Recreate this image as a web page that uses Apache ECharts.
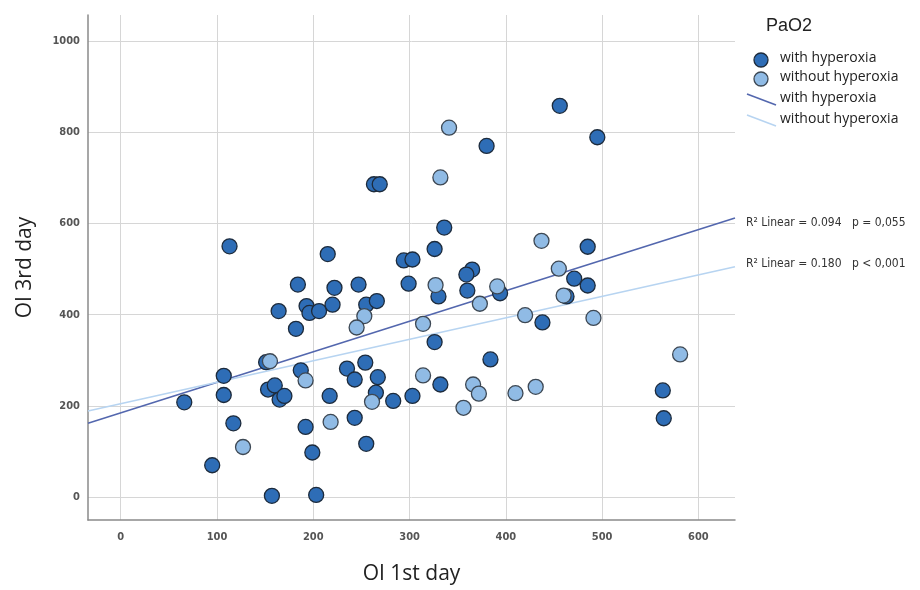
<!DOCTYPE html>
<html>
<head>
<meta charset="utf-8">
<script src="https://cdn.jsdelivr.net/npm/echarts@6/dist/echarts.min.js"></script>
<style>
html,body{margin:0;padding:0;background:#fff;}
#chart{width:920px;height:590px;}
</style>
</head>
<body>
<div id="chart"></div>
<script>
// ---- data ----
var withHyperoxia = [
  [66,208],[95,70],[107,266],[107,224],[117,162],[113,550],[151,296],[187,278],
  [153,236],[160,245],[165,214],[170,222],[157,3],[203,5],[192,154],[199,98],
  [217,222],[243,174],[235,282],[243,258],[254,295],[255,117],[267,263],[265,229],
  [283,211],[303,222],[164,408],[182,369],[193,419],[196,404],[206,408],[220,422],
  [255,422],[266,430],[184,466],[222,459],[247,466],[299,468],[294,519],[303,521],
  [326,544],[336,591],[263,686],[269,686],[215,533],[326,340],[330,440],[332,247],
  [360,453],[365,499],[359,488],[394,447],[380,770],[384,302],[438,383],[456,858],
  [495,789],[485,549],[471,479],[485,464],[463,440],[563,234],[564,173]
];
var withoutHyperoxia = [
  [127,110],[155,298],[192,256],[218,165],[261,209],[314,267],[253,397],[245,372],
  [314,380],[327,465],[332,701],[341,810],[373,424],[366,247],[372,227],[356,196],
  [410,228],[431,242],[420,399],[391,462],[437,562],[455,501],[460,442],[491,393],
  [581,313]
];
// fit lines (end points)
var fitWith = [[-34,162],[638,612]];
var fitWithout = [[-34,189],[638,505]];
var xRange = [-34, 638];
var yRange = [-50, 1057];
var legendTitle = 'PaO2';
var seriesNames = ['with hyperoxia','without hyperoxia'];
var fitLabels = ['R\u00b2 Linear = 0.094   p = 0,055', 'R\u00b2 Linear = 0.180   p < 0,001'];
var xName = 'OI 1st day', yName = 'OI 3rd day';

// ---- styles ----
var cDark = '#2e6db6', cLight = '#90bbe5';
var lDark = '#5367ae', lLight = '#b7d4f1';
var font = '"Open Sans", "Noto Sans", sans-serif';
var narrow = '"Liberation Sans Narrow", "DejaVu Sans Condensed", "Liberation Sans", sans-serif';
function plain(v){ return String(v); }

var chart = echarts.init(document.getElementById('chart'), null, {renderer:'canvas'});
var option = {
  backgroundColor: '#ffffff',
  animation: false,
  grid: {left: 88, right: 185, top: 15, bottom: 69},
  xAxis: {
    type: 'value', min: xRange[0], max: xRange[1],
    name: xName, nameLocation: 'middle', nameGap: 44,
    nameTextStyle: {fontSize: 21, color: '#222', fontFamily: font},
    axisLine: {show: true, onZero: false, lineStyle: {color: '#8a8a8a', width: 1.5}},
    axisTick: {show: false},
    axisLabel: {formatter: plain, showMinLabel: false, showMaxLabel: false, color: '#555', fontSize: 11, margin: 12, fontFamily: narrow, fontWeight: 'bold'},
    splitLine: {show: true, showMinLine: false, showMaxLine: false, lineStyle: {color: '#d6d6d6', width: 1}}
  },
  yAxis: {
    type: 'value', min: yRange[0], max: yRange[1],
    name: yName, nameLocation: 'middle', nameGap: 52, nameRotate: 90,
    nameTextStyle: {fontSize: 21, color: '#222', fontFamily: font},
    axisLine: {show: true, onZero: false, lineStyle: {color: '#8a8a8a', width: 1.5}},
    axisTick: {show: false},
    axisLabel: {formatter: plain, showMinLabel: false, showMaxLabel: false, color: '#555', fontSize: 11, margin: 8, fontFamily: narrow, fontWeight: 'bold'},
    splitLine: {show: true, showMinLine: false, showMaxLine: false, lineStyle: {color: '#d6d6d6', width: 1}}
  },
  series: [
    {name: seriesNames[0] + ' fit', type: 'line', data: fitWith, symbol: 'none', z: 2,
     lineStyle: {color: lDark, width: 1.6}},
    {name: seriesNames[1] + ' fit', type: 'line', data: fitWithout, symbol: 'none', z: 2,
     lineStyle: {color: lLight, width: 1.6}},
    {name: seriesNames[0], type: 'scatter', data: withHyperoxia, symbolSize: 15, z: 3,
     itemStyle: {color: cDark, borderColor: '#1d2b3c', borderWidth: 1.3, opacity: 1}},
    {name: seriesNames[1], type: 'scatter', data: withoutHyperoxia, symbolSize: 15, z: 3,
     itemStyle: {color: cLight, borderColor: '#3d4854', borderWidth: 1.3, opacity: 1}}
  ],
  graphic: [
    {type: 'text', left: 766, top: 17, style: {text: legendTitle, fontSize: 18, fill: '#222', font: '18px ' + font}},
    {type: 'circle', shape: {cx: 761, cy: 60, r: 7}, style: {fill: cDark, stroke: '#1d2b3c', lineWidth: 1.3}},
    {type: 'circle', shape: {cx: 761, cy: 79, r: 7}, style: {fill: cLight, stroke: '#3d4854', lineWidth: 1.3}},
    {type: 'line', shape: {x1: 747, y1: 94, x2: 776, y2: 105}, style: {stroke: lDark, lineWidth: 1.6}},
    {type: 'line', shape: {x1: 747, y1: 115, x2: 776, y2: 126}, style: {stroke: lLight, lineWidth: 1.6}},
    {type: 'text', left: 780, top: 51, style: {text: seriesNames[0], font: '14px ' + font, fill: '#222'}},
    {type: 'text', left: 780, top: 70, style: {text: seriesNames[1], font: '14px ' + font, fill: '#222'}},
    {type: 'text', left: 780, top: 91, style: {text: seriesNames[0], font: '14px ' + font, fill: '#222'}},
    {type: 'text', left: 780, top: 112, style: {text: seriesNames[1], font: '14px ' + font, fill: '#222'}},
    {type: 'text', left: 746, top: 217, style: {text: fitLabels[0], font: '12px ' + narrow, fill: '#333'}},
    {type: 'text', left: 746, top: 258, style: {text: fitLabels[1], font: '12px ' + narrow, fill: '#333'}}
  ]
};
chart.setOption(option);
</script>
</body>
</html>
